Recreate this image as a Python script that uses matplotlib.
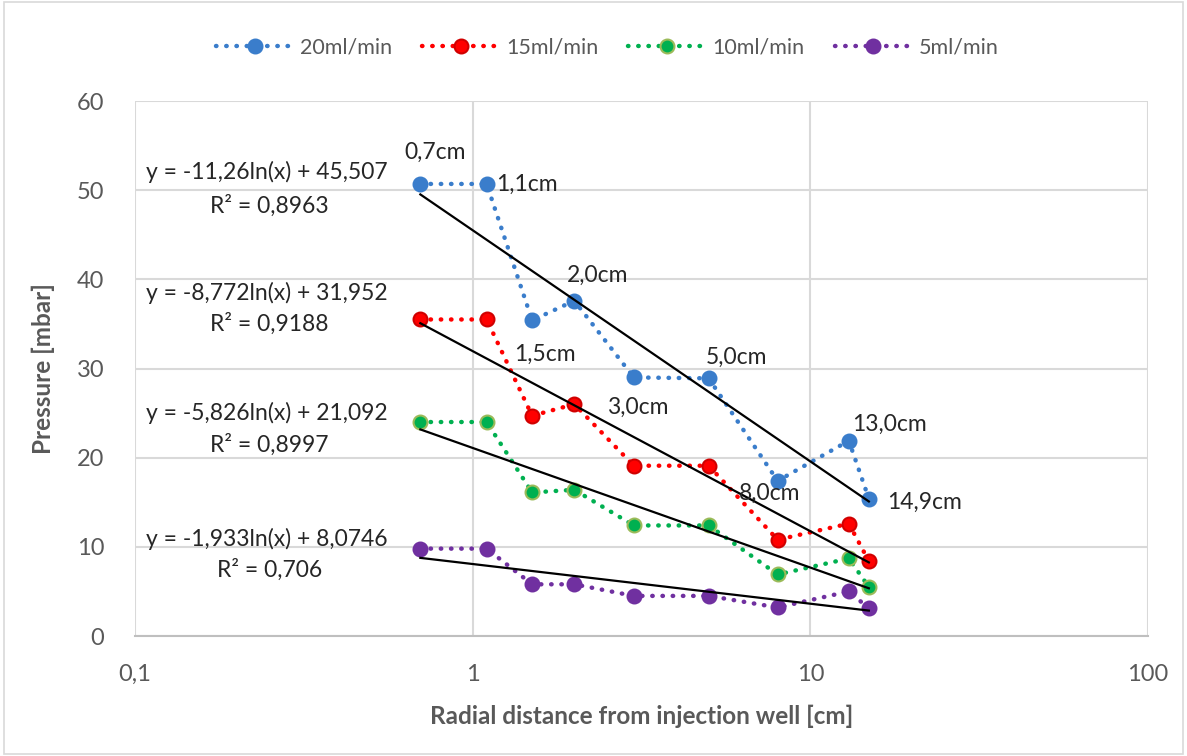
import matplotlib
matplotlib.use('Agg')
import matplotlib.pyplot as plt
import numpy as np

plt.rcParams['font.family'] = ['Lato', 'DejaVu Sans']

# radial distance [cm]
dist = [0.7, 1.1, 1.5, 2.0, 3.0, 5.0, 8.0, 13.0, 14.9]
dist_labels = ['0,7cm', '1,1cm', '1,5cm', '2,0cm', '3,0cm', '5,0cm', '8,0cm', '13,0cm', '14,9cm']

# pressure [mbar] per flow rate
p20 = [50.7, 50.7, 35.4, 37.6, 29.0, 28.9, 17.4, 21.9, 15.4]
p15 = [35.5, 35.5, 24.7, 26.0, 19.1, 19.1, 10.8, 12.6, 8.4]
p10 = [24.0, 24.0, 16.1, 16.4, 12.4, 12.4, 6.9, 8.7, 5.5]
p5 = [9.8, 9.8, 5.8, 5.8, 4.5, 4.5, 3.2, 5.0, 3.1]

series_names = ['20ml/min', '15ml/min', '10ml/min', '5ml/min']
# log trendline coefficients y = a*ln(x) + b
fit_a = [-11.26, -8.772, -5.826, -1.933]
fit_b = [45.507, 31.952, 21.092, 8.0746]
fit_eq = ['y = -11,26ln(x) + 45,507', 'y = -8,772ln(x) + 31,952',
          'y = -5,826ln(x) + 21,092', 'y = -1,933ln(x) + 8,0746']
fit_r2 = ['R² = 0,8963', 'R² = 0,9188', 'R² = 0,8997', 'R² = 0,706']

colors = ['#3A7DCB', '#FF0000', '#00B050', '#7030A0']
edges = ['#3A7DCB', '#D00000', '#9BBB59', '#7030A0']

fig = plt.figure(figsize=(11.87, 7.56), dpi=100)
fig.patches.append(plt.Rectangle((0.003, 0.003), 0.994, 0.994, transform=fig.transFigure,
                                 fill=False, edgecolor='#D9D9D9', lw=1.2))
ax = fig.add_axes([0.1137, 0.1587, 0.8535, 0.7077])

for s, name, c, ec in zip([p20, p15, p10, p5], series_names, colors, edges):
    ax.plot(dist, s, color=c, lw=3.2, linestyle=(0, (0.1, 2.2)), dash_capstyle='round',
            marker='o', markersize=10, markerfacecolor=c, markeredgecolor=ec,
            markeredgewidth=1.5, label=name, zorder=3)

xs = np.geomspace(dist[0], dist[-1], 50)
for a, b in zip(fit_a, fit_b):
    ax.plot(xs, a * np.log(xs) + b, color='black', lw=1.6, zorder=4)

# point labels (20ml/min)
lab_pos = [(0.773, 54.2), (1.45, 50.6), (1.64, 31.6), (2.35, 40.5), (3.09, 25.7),
           (6.03, 31.3), (7.59, 16.0), (17.1, 23.7), (21.8, 15.0)]
for (lx, ly), t in zip(lab_pos, dist_labels):
    ax.text(lx, ly, t, fontsize=16.5, color='#262626', ha='center', va='center', zorder=5)

eq_y = [(52.0, 48.3), (38.5, 35.0), (25.0, 21.5), (10.9, 7.4)]
for (ey, ry), eq, r2 in zip(eq_y, fit_eq, fit_r2):
    ax.text(0.245, ey, eq, fontsize=16.5, color='#262626', ha='center', va='center')
    ax.text(0.25, ry, r2, fontsize=16.5, color='#262626', ha='center', va='center')

ax.set_xscale('log')
ax.set_xlim(0.1, 100)
ax.set_ylim(0, 60)
ax.set_xticks([0.1, 1, 10, 100])
ax.set_xticklabels(['0,1', '1', '10', '100'])
ax.set_yticks(np.arange(0, 61, 10))
ax.minorticks_off()
ax.tick_params(length=0, labelsize=17, labelcolor='#595959', pad=20)
ax.tick_params(axis='y', pad=22)
ax.grid(True, color='#D9D9D9', lw=1.5)
ax.set_axisbelow(True)
for sp in ['left', 'right', 'top']:
    ax.spines[sp].set_visible(False)
ax.spines['bottom'].set_color('#BFBFBF')
ax.spines['bottom'].set_linewidth(1.5)

ax.set_xlabel('Radial distance from injection well [cm]', fontsize=17.5, fontweight='bold',
              color='#595959', labelpad=14)
ax.set_ylabel('Pressure [mbar]', fontsize=17.5, fontweight='bold', color='#595959', labelpad=16)

ax.legend(loc='center', bbox_to_anchor=(0.466, 1.1), ncol=4, frameon=False, fontsize=15.5,
          labelcolor='#595959', handlelength=3.6, columnspacing=1.4, handletextpad=0.3)

plt.savefig('out.png', dpi=100)
